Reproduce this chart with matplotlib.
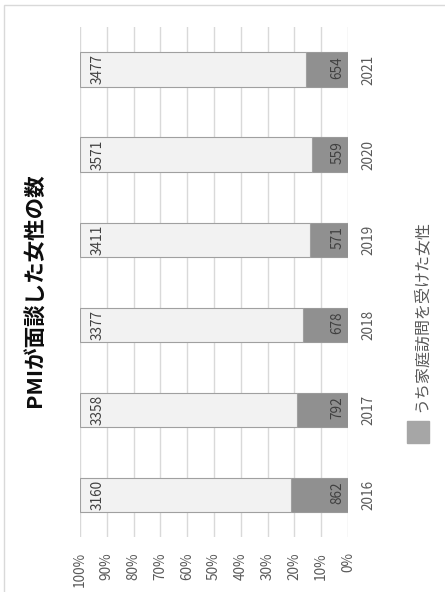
import matplotlib.pyplot as plt
from matplotlib.patches import Rectangle

# PMIが面談した女性の数 (100%積み上げ、横向きレイアウト)
years = ["2016", "2017", "2018", "2019", "2020", "2021"]
visited = [862, 792, 678, 571, 559, 654]        # うち家庭訪問を受けた女性
others = [3160, 3358, 3377, 3411, 3571, 3477]   # その他

plt.rcParams['font.family'] = ['Noto Sans CJK JP', 'DejaVu Sans']

totals = [v + o for v, o in zip(visited, others)]
pct_v = [v / t * 100 for v, t in zip(visited, totals)]
pct_o = [o / t * 100 for o, t in zip(others, totals)]

fig = plt.figure(figsize=(4.45, 5.92), dpi=100)

# グラフエリアの枠
fig.patches.append(Rectangle((4 / 445, -0.1), 1.2, 1 - 5 / 592 + 0.1,
                             transform=fig.transFigure, fill=False,
                             edgecolor="#D9D9D9", linewidth=1))

ax = fig.add_axes([80 / 445, 1 - 537 / 592, 268 / 445, 510 / 592])
pos = list(range(len(years)))

ax.barh(pos, pct_v, height=0.4, color="#909090", edgecolor="#9A9A9A",
        linewidth=0.8, zorder=3)
ax.barh(pos, pct_o, left=pct_v, height=0.4, color="#F2F2F2",
        edgecolor="#A0A0A0", linewidth=0.8, zorder=3)

for i in pos:
    ax.annotate(str(others[i]), xy=(100, i), xytext=(7.5, 0),
                textcoords="offset points", rotation=90, ha="left",
                va="center", fontsize=9.8, color="#404040", zorder=4)
    ax.annotate(str(visited[i]), xy=(0, i), xytext=(-2.5, 1.5),
                textcoords="offset points", rotation=90, ha="right",
                va="center", fontsize=9.8, color="#404040", zorder=4)

ax.set_xlim(100, 0)
ax.set_ylim(-0.5, 5.5)
ax.set_xticks(range(0, 101, 10))
ax.set_xticklabels([f"{p}%" for p in range(0, 101, 10)], rotation=90,
                   fontsize=9.8, color="#595959")
ax.set_yticks(pos)
ax.set_yticklabels(years, rotation=90, va="center", fontsize=9.8,
                   color="#595959")
ax.yaxis.tick_right()
ax.tick_params(axis="x", length=0, pad=11)
ax.tick_params(axis="y", length=0, pad=10)
ax.grid(axis="x", color="#D9D9D9", linewidth=1, zorder=0)
for s in ax.spines.values():
    s.set_visible(False)

fig.text(35 / 445, 1 - 290 / 592, "PMIが面談した女性の数", rotation=90,
         ha="center", va="center", fontsize=15.5, fontweight="bold",
         color="#0D0D0D")

# 凡例
fig.patches.append(Rectangle((407 / 445, 1 - 443 / 592), 22 / 445, 22 / 592,
                             transform=fig.transFigure, color="#A6A6A6"))
fig.text(421 / 445, 1 - 316 / 592, "うち家庭訪問を受けた女性", rotation=90,
         ha="center", va="center", fontsize=11.5, color="#595959")

fig.savefig("out.png", dpi=100)
